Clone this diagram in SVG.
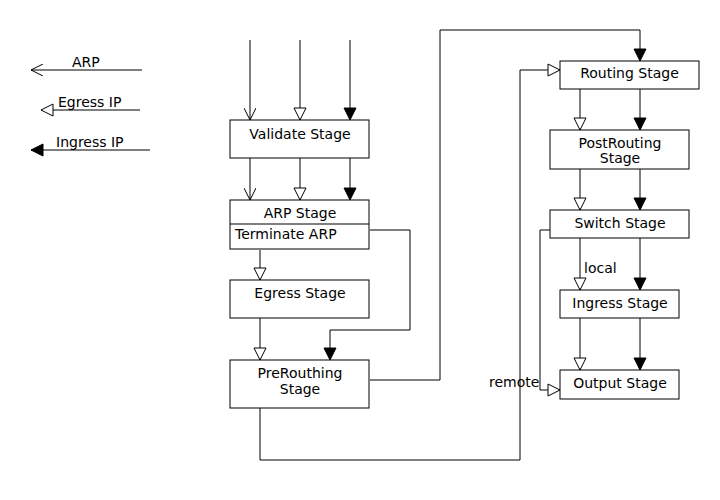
<svg xmlns="http://www.w3.org/2000/svg" width="720" height="500" viewBox="0 0 720 500">
<defs>
<style>
.box{fill:#fff;stroke:#000;stroke-width:1}
.ln{fill:none;stroke:#000;stroke-width:1}
text{font-family:"DejaVu Sans",sans-serif;font-size:14px;fill:#000}
.c{text-anchor:middle}
</style>
<marker id="open" viewBox="0 0 12 12" refX="12" refY="6" markerWidth="12" markerHeight="12" markerUnits="userSpaceOnUse" orient="auto"><path d="M0,0 L12,6 L0,12" fill="none" stroke="#000" stroke-width="1"/></marker>
<marker id="hollow" viewBox="0 0 14 14" refX="13" refY="7" markerWidth="14" markerHeight="14" markerUnits="userSpaceOnUse" orient="auto"><path d="M1,1 L13,7 L1,13 Z" fill="#fff" stroke="#000" stroke-width="1"/></marker>
<marker id="filled" viewBox="0 0 14 14" refX="13" refY="7" markerWidth="14" markerHeight="14" markerUnits="userSpaceOnUse" orient="auto"><path d="M1,1 L13,7 L1,13 Z" fill="#000" stroke="#000" stroke-width="1"/></marker>
</defs>
<rect width="720" height="500" fill="#fff"/>
<g id="legend">
<line class="ln" x1="142" y1="70" x2="31" y2="70" marker-end="url(#open)"/>
<text x="72" y="67">ARP</text>
<line class="ln" x1="140" y1="110" x2="41" y2="110" marker-end="url(#hollow)"/>
<text x="58" y="107">Egress IP</text>
<line class="ln" x1="150" y1="150" x2="31" y2="150" marker-end="url(#filled)"/>
<text x="56" y="147">Ingress IP</text>
</g>
<g id="connectors">
<line class="ln" x1="250" y1="40" x2="250" y2="120" marker-end="url(#open)"/>
<line class="ln" x1="300" y1="40" x2="300" y2="120" marker-end="url(#hollow)"/>
<line class="ln" x1="350" y1="40" x2="350" y2="120" marker-end="url(#filled)"/>
<line class="ln" x1="250" y1="158" x2="250" y2="200" marker-end="url(#open)"/>
<line class="ln" x1="300" y1="158" x2="300" y2="200" marker-end="url(#hollow)"/>
<line class="ln" x1="350" y1="158" x2="350" y2="200" marker-end="url(#filled)"/>
<line class="ln" x1="260" y1="250" x2="260" y2="280" marker-end="url(#hollow)"/>
<polyline class="ln" points="370,230 410,230 410,330 330,330 330,360" marker-end="url(#filled)"/>
<line class="ln" x1="260" y1="318" x2="260" y2="360" marker-end="url(#hollow)"/>
<polyline class="ln" points="370,380 440,380 440,30 640,30 640,61" marker-end="url(#filled)"/>
<polyline class="ln" points="260,408 260,460 520,460 520,70 560,70" marker-end="url(#hollow)"/>
<line class="ln" x1="580" y1="89" x2="580" y2="130" marker-end="url(#hollow)"/>
<line class="ln" x1="640" y1="89" x2="640" y2="130" marker-end="url(#filled)"/>
<line class="ln" x1="580" y1="169" x2="580" y2="210" marker-end="url(#hollow)"/>
<line class="ln" x1="640" y1="169" x2="640" y2="210" marker-end="url(#filled)"/>
<line class="ln" x1="580" y1="238" x2="580" y2="290" marker-end="url(#hollow)"/>
<text x="584" y="273">local</text>
<line class="ln" x1="640" y1="238" x2="640" y2="290" marker-end="url(#filled)"/>
<line class="ln" x1="580" y1="318" x2="580" y2="370" marker-end="url(#hollow)"/>
<line class="ln" x1="640" y1="318" x2="640" y2="370" marker-end="url(#filled)"/>
<polyline class="ln" points="550,230 540,230 540,390 560,390" marker-end="url(#hollow)"/>
<text x="489" y="387">remote</text>
</g>
<g id="validate"><rect class="box" x="230" y="120" width="139" height="38"/><text class="c" x="300" y="139">Validate Stage</text></g>
<g id="arp"><rect class="box" x="230" y="200" width="139" height="49"/><line class="ln" x1="230" y1="224" x2="369" y2="224"/><text class="c" x="300" y="218">ARP Stage</text><text x="235" y="239">Terminate ARP</text></g>
<g id="egress"><rect class="box" x="230" y="280" width="139" height="38"/><text class="c" x="300" y="298">Egress Stage</text></g>
<g id="prerouting"><rect class="box" x="230" y="360" width="139" height="48"/><text class="c" x="300" y="378">PreRouthing</text><text class="c" x="300" y="394">Stage</text></g>
<g id="routing"><rect class="box" x="560" y="61" width="139" height="28"/><text class="c" x="629.5" y="78">Routing Stage</text></g>
<g id="postrouting"><rect class="box" x="550" y="130" width="139" height="39"/><text class="c" x="620" y="148">PostRouting</text><text class="c" x="620" y="163">Stage</text></g>
<g id="switch"><rect class="box" x="550" y="210" width="139" height="28"/><text class="c" x="620" y="228">Switch Stage</text></g>
<g id="ingress"><rect class="box" x="560" y="290" width="119" height="28"/><text class="c" x="620" y="308">Ingress Stage</text></g>
<g id="output"><rect class="box" x="560" y="370" width="119" height="29"/><text class="c" x="620" y="388">Output Stage</text></g>
</svg>
